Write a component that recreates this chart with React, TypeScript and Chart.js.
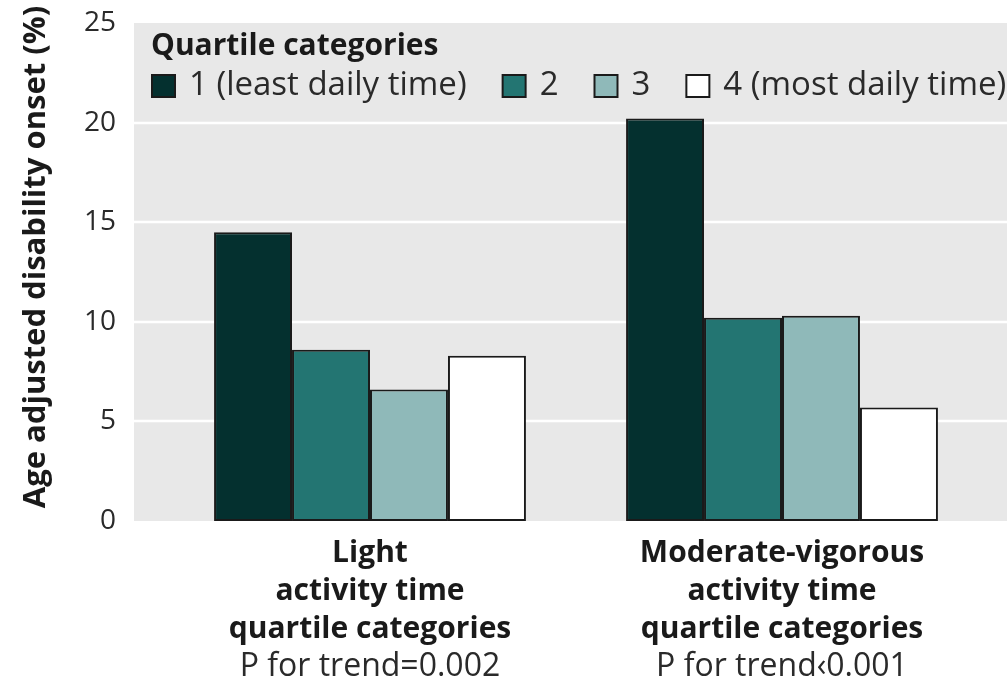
import React, { useEffect, useRef } from "react";
import { Chart, registerables } from "chart.js";

Chart.register(...registerables);

const categories = ["Light", "Moderate-vigorous"];
const categoryLines = [
  ["Light", "activity time", "quartile categories"],
  ["Moderate-vigorous", "activity time", "quartile categories"],
];
const trendLabels = ["P for trend=0.002", "P for trend\u20390.001"];
const seriesLabels = ["1 (least daily time)", "2", "3", "4 (most daily time)"];
const q1 = [14.5, 20.2];
const q2 = [8.6, 10.2];
const q3 = [6.6, 10.3];
const q4 = [8.3, 5.7];
const seriesColors = ["#04302f", "#237572", "#8fb9b9", "#ffffff"];
const yTicks = [0, 5, 10, 15, 20, 25];
const legendTitle = "Quartile categories";
const yTitle = "Age adjusted disability onset (%)";

const FONT = "'Open Sans', 'Noto Sans', sans-serif";

const backgroundPlugin = {
  id: "greyBackground",
  beforeDraw(chart: any) {
    const { ctx, scales } = chart;
    const y = scales.y;
    const left = 134;
    const right = chart.width;
    const top = y.getPixelForValue(yTicks[yTicks.length - 1]);
    const bottom = y.getPixelForValue(0);
    ctx.save();
    ctx.fillStyle = "#e8e8e8";
    ctx.fillRect(left, top, right - left, bottom - top);
    ctx.strokeStyle = "#ffffff";
    ctx.lineWidth = 2.5;
    yTicks.forEach((t) => {
      if (t === 0 || t === yTicks[yTicks.length - 1]) return;
      const py = Math.round(y.getPixelForValue(t));
      ctx.beginPath();
      ctx.moveTo(left, py);
      ctx.lineTo(right, py);
      ctx.stroke();
    });
    ctx.restore();
  },
};

const textPlugin = {
  id: "textLayer",
  afterDraw(chart: any) {
    const { ctx, scales } = chart;
    ctx.save();
    // y axis title
    ctx.translate(36, 257);
    ctx.rotate(-Math.PI / 2);
    ctx.textAlign = "center";
    ctx.textBaseline = "middle";
    ctx.fillStyle = "#1a1a1a";
    ctx.font = `bold 31px ${FONT}`;
    ctx.fillText(yTitle, 0, 0);
    ctx.restore();

    // legend
    ctx.save();
    ctx.textBaseline = "middle";
    ctx.textAlign = "left";
    ctx.fillStyle = "#1a1a1a";
    ctx.font = `bold 30px ${FONT}`;
    ctx.fillText(legendTitle, 151, 46);
    ctx.font = `33px ${FONT}`;
    let x = 152;
    const cy = 86;
    chart.data.datasets.forEach((ds: any) => {
      ctx.fillStyle = ds.backgroundColor;
      ctx.fillRect(x, cy - 11, 23, 22);
      ctx.strokeStyle = "#1a1a1a";
      ctx.lineWidth = 2;
      ctx.strokeRect(x, cy - 11, 23, 22);
      x += 23 + 14;
      ctx.fillStyle = "#2a2a2a";
      ctx.fillText(ds.label, x, cy);
      x += ctx.measureText(ds.label).width + 36;
    });
    ctx.restore();

    // category labels
    const xs = scales.x;
    ctx.save();
    ctx.textAlign = "center";
    ctx.textBaseline = "middle";
    categories.forEach((_, i) => {
      const cx = xs.getPixelForValue(i);
      ctx.fillStyle = "#1a1a1a";
      ctx.font = `bold 30px ${FONT}`;
      categoryLines[i].forEach((line, j) => {
        ctx.fillText(line, cx, 553 + j * 38);
      });
      ctx.fillStyle = "#2a2a2a";
      ctx.font = `32px ${FONT}`;
      ctx.fillText(trendLabels[i], cx, 553 + 3 * 38);
    });
    ctx.restore();
  },
};

export default function App() {
  const ref = useRef<HTMLCanvasElement | null>(null);
  useEffect(() => {
    if (!ref.current) return;
    const data = [q1, q2, q3, q4];
    const chart = new Chart(ref.current, {
      type: "bar",
      data: {
        labels: categories,
        datasets: seriesLabels.map((label, i) => ({
          label,
          data: data[i],
          backgroundColor: seriesColors[i],
          borderColor: "#1a1a1a",
          borderWidth: 2,
          borderSkipped: false,
          barPercentage: 1,
          categoryPercentage: 0.757,
        })),
      },
      options: {
        responsive: false,
        animation: false,
        devicePixelRatio: 1,
        layout: { padding: { left: 0, right: 19, top: 23, bottom: 165 } },
        plugins: {
          legend: { display: false },
          tooltip: { enabled: false },
        },
        scales: {
          x: {
            type: "category",
            display: false,
            offset: true,
            grid: { display: false },
          },
          y: {
            min: 0,
            max: 25,
            afterFit: (s: any) => {
              s.width = 164;
              s.paddingTop = 10;
              s.paddingBottom = 10;
            },
            afterBuildTicks: (s: any) => {
              s.ticks = yTicks.map((v) => ({ value: v }));
            },
            ticks: {
              padding: 40,
              color: "#2a2a2a",
              font: { family: FONT, size: 28 },
            },
            grid: { display: false },
            border: { display: false },
            title: { display: false },
          },
        },
      },
      plugins: [backgroundPlugin, textPlugin],
    });
    return () => chart.destroy();
  }, []);
  return (
    <div style={{ position: "fixed", left: 0, top: 0, width: 1007, height: 686, background: "#fff" }}>
      <canvas ref={ref} width={1007} height={686} style={{ display: "block" }} />
    </div>
  );
}
